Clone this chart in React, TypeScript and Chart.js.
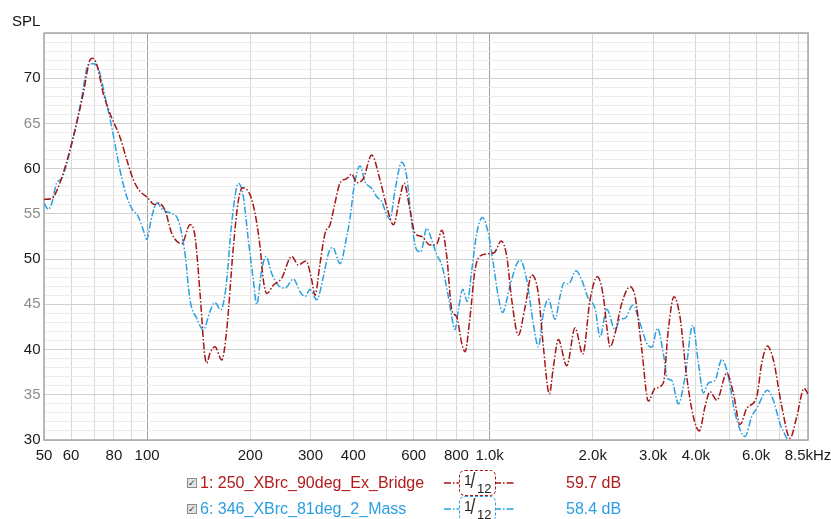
import React, { useEffect, useRef } from "react";
import { Chart, registerables } from "chart.js";

Chart.register(...registerables);

// ---- data (frequency in Hz, SPL in dB) ----
const redFreq = [50, 52.7, 54.4, 56.9, 60.9, 65.1, 68.1, 69.2, 71.3, 74.5,
  77.9, 83.3, 87.2, 91.2, 95.3, 99.7, 105.4, 107.8, 112.8, 118,
  126.2, 133.4, 138, 142.7, 147.1, 149.3, 152.6, 157.8, 165.2, 170.8,
  178.6, 184.7, 190.2, 199.8, 206.6, 213.6, 218.4, 223.4, 233.6, 247.2,
  264.3, 276.4, 291, 302.4, 309.1, 319.7, 330.7, 342, 353.6, 365.7,
  382.6, 395.7, 409.2, 427.8, 452.6, 478.6, 500.7, 523.5, 547.5, 562.4,
  585.6, 605.6, 633.5, 669.9, 701.2, 725, 749.7, 775.1, 801.6, 828.9,
  847.5, 876.4, 906.3, 948.4, 1003, 1037, 1080, 1122, 1160, 1213,
  1269, 1327, 1387, 1435, 1494, 1535, 1587, 1679, 1776, 1870,
  1964, 2063, 2148, 2198, 2247, 2324, 2430, 2570, 2658, 2781,
  2907, 3040, 3214, 3324, 3453, 3595, 3761, 3932, 4094, 4255,
  4400, 4603, 4923, 5145, 5384, 5632, 6022, 6229, 6469, 6734,
  7126, 7536, 7885, 8279, 8500];
const redSpl = [56.6, 56.7, 57.5, 59.5, 63.5, 68.3, 72.0, 72.2, 71.5, 68.3,
  66.1, 63.5, 61.0, 58.75, 57.5, 56.9, 56.0, 56.2, 55.4, 52.85,
  51.7, 53.8, 52.5, 46.25, 39.6, 38.5, 39.6, 40.3, 38.85, 42.2,
  51.4, 56.5, 57.9, 57.1, 55.05, 51.4, 47.7, 46.2, 47.1, 47.9,
  50.3, 49.35, 49.8, 47.7, 46.0, 49.5, 52.85, 53.8, 56.2, 58.4,
  58.9, 59.4, 58.45, 58.9, 61.5, 58.75, 55.8, 53.8, 56.9, 58.4,
  55.4, 52.85, 52.5, 51.55, 51.7, 53.2, 50.3, 44.4, 43.6, 40.7,
  39.75, 43.6, 48.8, 50.45, 50.6, 50.8, 52.0, 50.3, 45.5, 41.6,
  44.7, 48.25, 46.2, 40.3, 35.1, 38.1, 41.1, 38.2, 42.4, 39.5,
  45.5, 48.05, 45.85, 42.5, 40.3, 41.8, 45.1, 46.95, 45.85, 40.0,
  34.3, 35.7, 36.3, 42.2, 45.85, 43.6, 37.0, 32.6, 31.0, 33.7,
  35.35, 34.4, 37.4, 35.2, 31.7, 33.5, 34.8, 38.5, 40.4, 38.85,
  33.7, 30.2, 32.6, 35.7, 35.1];

const blueFreq = [50, 51.5, 52.7, 54.4, 56.3, 58.3, 60.9, 64.4, 67.3, 69.6,
  72.0, 75.4, 78.8, 83.3, 87.2, 90.2, 94.2, 97.5, 99.7, 103.2,
  106.7, 111.5, 118, 123.3, 129, 133.4, 139.6, 145.9, 152.6, 157.8,
  164, 170, 176.6, 184.7, 190.9, 197.5, 204.2, 208.9, 216, 222.4,
  231.1, 241.6, 252.7, 267.3, 279.5, 289, 298.9, 312.7, 327, 338.2,
  348.3, 365.7, 382.6, 391.2, 401.9, 418.4, 432.7, 452.6, 468.1, 484.2,
  500.7, 511.8, 529.3, 553.8, 572.8, 592.4, 612.6, 629.4, 655.3, 677.6,
  701.2, 725, 757.7, 775.1, 792.4, 810.2, 834.7, 860.6, 886.8, 917,
  951.9, 991.2, 1025, 1060, 1091, 1122, 1147, 1227, 1283, 1341,
  1387, 1435, 1484, 1552, 1605, 1649, 1698, 1788, 1857, 1941,
  2031, 2101, 2198, 2324, 2403, 2485, 2617, 2749, 2875, 2974,
  3088, 3214, 3302, 3401, 3556, 3720, 3917, 4068, 4207, 4351,
  4551, 4761, 4977, 5205, 5569, 5824, 6022, 6469, 6734, 7043,
  7370, 7636];
const blueSpl = [56.2, 55.5, 56.2, 58.4, 58.9, 60.6, 63.5, 67.8, 71.5, 71.6,
  71.1, 67.95, 64.65, 59.85, 56.9, 55.6, 54.7, 53.2, 52.2, 54.7,
  56.2, 55.4, 55.05, 54.3, 50.6, 45.5, 43.45, 42.2, 44.2, 45.2,
  44.4, 46.95, 54.0, 58.4, 56.9, 52.1, 47.7, 45.0, 48.8, 50.3,
  48.4, 47.1, 46.8, 47.8, 46.4, 45.85, 46.65, 45.5, 48.05, 50.6,
  51.3, 49.5, 52.5, 54.5, 58.0, 60.3, 58.55, 57.8, 56.9, 56.35,
  54.9, 54.4, 57.6, 60.7, 59.1, 54.0, 51.0, 50.8, 53.4, 52.1,
  50.45, 49.35, 45.85, 43.6, 42.2, 44.4, 46.65, 45.3, 48.8, 52.85,
  54.6, 52.85, 49.5, 45.85, 44.1, 45.5, 47.1, 49.9, 47.7, 42.9,
  40.3, 44.0, 45.55, 43.35, 45.85, 47.4, 47.25, 48.7, 47.7, 45.65,
  44.55, 41.4, 44.45, 42.2, 43.35, 43.45, 44.9, 42.9, 40.7, 40.25,
  42.35, 39.6, 36.8, 36.6, 34.0, 37.0, 42.7, 38.5, 35.2, 36.3,
  36.6, 38.9, 37.0, 32.95, 30.4, 32.6, 33.5, 35.5, 34.4, 31.8,
  30.2, 29.0];

// ---- axes ----
const xGridValues = [50, 60, 70, 80, 90, 100, 200, 300, 400, 500, 600, 700, 800, 900,
  1000, 2000, 3000, 4000, 5000, 6000, 7000, 8000, 8500];
const xLabelValues = [50, 60, 80, 100, 200, 300, 400, 600, 800, 1000, 2000, 3000, 4000, 6000, 8500];
const xLabelTexts = ["50", "60", "80", "100", "200", "300", "400", "600", "800", "1.0k", "2.0k", "3.0k", "4.0k", "6.0k", "8.5kHz"];
const yLabelValues = [30, 35, 40, 45, 50, 55, 60, 65, 70];
const yMin = 30;
const yMax = 75;
const xMin = 50;
const xMax = 8500;

// ---- legend ----
const legendNames = ["1: 250_XBrc_90deg_Ex_Bridge", "6: 346_XBrc_81deg_2_Mass"];
const legendValues = ["59.7 dB", "58.4 dB"];
const seriesColors = ["#a51616", "#2a9fe2"];
const textColors = ["#b01c1c", "#2a9fe2"];

const FONT = '"Liberation Sans", Arial, Helvetica, sans-serif';
const DASH = [7, 2, 1.5, 2];

const framePlugin = {
  id: "frame",
  beforeDatasetsDraw(chart: any) {
    const { ctx, chartArea: a } = chart;
    ctx.save();
    ctx.strokeStyle = "#a6a6a6";
    ctx.lineWidth = 1.5;
    ctx.strokeRect(a.left, a.top, a.right - a.left, a.bottom - a.top);
    ctx.restore();
  },
};

export default function App() {
  const ref = useRef<HTMLCanvasElement | null>(null);

  useEffect(() => {
    if (!ref.current) return;
    const yGrid: number[] = [];
    for (let v = yMin; v <= yMax; v++) yGrid.push(v);

    const chart = new Chart(ref.current, {
      type: "line",
      data: {
        datasets: [
          {
            label: legendNames[0],
            data: redFreq.map((f, i) => ({ x: f, y: redSpl[i] })),
            borderColor: seriesColors[0],
            borderWidth: 1.5,
            borderDash: DASH,
            pointRadius: 0,
            cubicInterpolationMode: "monotone",
            fill: false,
          },
          {
            label: legendNames[1],
            data: blueFreq.map((f, i) => ({ x: f, y: blueSpl[i] })),
            borderColor: seriesColors[1],
            borderWidth: 1.5,
            borderDash: DASH,
            pointRadius: 0,
            cubicInterpolationMode: "monotone",
            fill: false,
          },
        ],
      },
      options: {
        animation: false,
        responsive: false,
        maintainAspectRatio: false,
        events: [],
        layout: { padding: { left: 0, top: 33, right: 23, bottom: 0 } },
        plugins: { legend: { display: false }, tooltip: { enabled: false } },
        scales: {
          x: {
            type: "logarithmic",
            min: xMin,
            max: xMax,
            afterBuildTicks: (s: any) => {
              s.ticks = xGridValues.map((v) => ({ value: v }));
            },
            afterFit: (s: any) => {
              s.height = 79;
              s.paddingLeft = 0;
              s.paddingRight = 0;
            },
            ticks: {
              autoSkip: false,
              maxRotation: 0,
              minRotation: 0,
              padding: 7,
              color: "#1a1a1a",
              font: { family: FONT, size: 15 },
              callback: (v: any) => {
                const i = xLabelValues.indexOf(Number(v));
                return i >= 0 ? xLabelTexts[i] : "";
              },
            },
            grid: {
              drawTicks: false,
              color: (c: any) =>
                c.tick && (c.tick.value === 100 || c.tick.value === 1000) ? "#a0a0a0" : "#d9d9d9",
              lineWidth: 1,
            },
            border: { display: false },
          },
          y: {
            type: "linear",
            min: yMin,
            max: yMax,
            afterBuildTicks: (s: any) => {
              s.ticks = yGrid.map((v) => ({ value: v }));
            },
            afterFit: (s: any) => {
              s.width = 44;
              s.paddingTop = 0;
              s.paddingBottom = 0;
            },
            ticks: {
              autoSkip: false,
              padding: 3.5,
              font: { family: FONT, size: 15 },
              color: (c: any) => (c.tick && c.tick.value % 10 === 0 ? "#1a1a1a" : "#8c8c8c"),
              callback: (v: any) => (yLabelValues.indexOf(Number(v)) >= 0 ? String(v) : ""),
            },
            grid: {
              drawTicks: false,
              color: (c: any) => (c.tick && c.tick.value % 5 === 0 ? "#d0d0d0" : "#ececec"),
              lineWidth: 1,
            },
            border: { display: false },
          },
        },
      },
      plugins: [framePlugin],
    } as any);
    return () => chart.destroy();
  }, []);

  const rowCenters = [483, 509];

  return (
    <div
      style={{
        position: "absolute",
        left: 0,
        top: 0,
        width: 831,
        height: 519,
        overflow: "hidden",
        background: "#fff",
        fontFamily: FONT,
      }}
    >
      <canvas ref={ref} width={831} height={519} style={{ position: "absolute", left: 0, top: 0, width: 831, height: 519 }} />
      <div style={{ position: "absolute", left: 12, top: 13, fontSize: 15, lineHeight: "15px", color: "#111" }}>SPL</div>
      {legendNames.map((name, i) => {
        const cy = rowCenters[i];
        const col = seriesColors[i];
        return (
          <React.Fragment key={name}>
            <div
              style={{
                position: "absolute",
                left: 187,
                top: cy - 5,
                width: 8,
                height: 8,
                border: "1px solid #8a8a8a",
                background: "#e4e4e4",
                fontSize: 9,
                lineHeight: "8px",
                textAlign: "center",
                color: "#333",
              }}
            >
              ✓
            </div>
            <div
              style={{
                position: "absolute",
                left: 200,
                top: cy - 8,
                fontSize: 16,
                lineHeight: "16px",
                color: textColors[i],
                whiteSpace: "nowrap",
              }}
            >
              {name}
            </div>
            <svg
              style={{ position: "absolute", left: 444, top: cy - 2 }}
              width={70}
              height={4}
            >
              <line x1={0} y1={2} x2={70} y2={2} stroke={col} strokeWidth={1.5} strokeDasharray="7 2 1.5 2" />
            </svg>
            <div
              style={{
                position: "absolute",
                left: 459,
                top: cy - 13,
                width: 35,
                height: 24,
                border: `1.5px dashed ${col}`,
                borderRadius: 6,
                background: "#fff",
                color: "#222",
              }}
            >
              <span style={{ position: "absolute", left: 4, top: 2, fontSize: 14, lineHeight: "14px" }}>1</span>
              <span style={{ position: "absolute", left: 10, top: -1, fontSize: 22, lineHeight: "22px", color: "#333", transform: "scaleX(0.8)" }}>/</span>
              <span style={{ position: "absolute", left: 17, top: 11, fontSize: 13, lineHeight: "13px" }}>12</span>
            </div>
            <div
              style={{
                position: "absolute",
                left: 566,
                top: cy - 8,
                fontSize: 16,
                lineHeight: "16px",
                color: textColors[i],
                whiteSpace: "nowrap",
              }}
            >
              {legendValues[i]}
            </div>
          </React.Fragment>
        );
      })}
    </div>
  );
}
